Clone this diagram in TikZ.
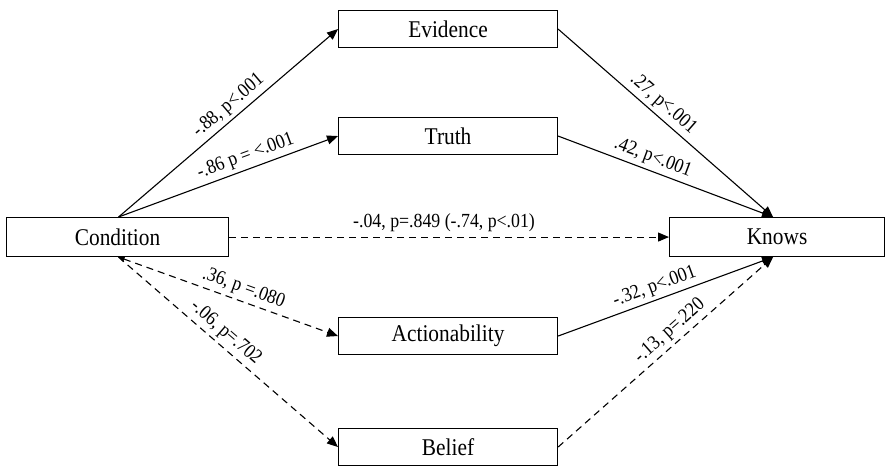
\documentclass[tikz,border=0pt]{standalone}
\usepackage{fontspec}
\setmainfont[FakeStretch=0.89]{Liberation Serif}
\usetikzlibrary{arrows.meta}
\begin{document}
\begin{tikzpicture}[x=1pt,y=-1pt,
  box/.style={draw,line width=1.1pt,minimum width=219pt,minimum height=37pt,inner sep=0pt,font=\fontsize{24}{26}\selectfont,anchor=north west},
  conn/.style={line width=1.1pt,-{Triangle[length=11pt,width=9pt]}},
  dconn/.style={conn,dash pattern=on 7pt off 5pt},
  lab/.style={font=\fontsize{20}{22}\selectfont,sloped,above,inner sep=3.5pt},
  hlab/.style={font=\fontsize{20}{22}\selectfont,above,inner sep=5pt}]
\useasboundingbox (0,0) rectangle (886,466);
\node[box] (ev) at (338,10) {Evidence};
\node[box] (tr) at (338,117) {Truth};
\node[box,minimum width=222pt,minimum height=39pt] (co) at (6,217) {Condition};
\node[box,minimum width=215pt,minimum height=39pt] (kn) at (669,217) {Knows};
\node[box] (ac) at (338,317) {Actionability};
\node[box] (be) at (338,428) {Belief};
\coordinate (cot) at ([xshift=1pt]co.north);
\coordinate (cob) at ([xshift=1pt]co.south);
\coordinate (knt) at ([xshift=-4pt]kn.north);
\coordinate (knb) at ([xshift=-4pt]kn.south);
\draw[conn] (cot) -- node[lab,pos=0.54] {-.88, p<.001} (ev.west);
\draw[conn] (cot) -- node[lab,pos=0.6] {-.86 p = <.001} (tr.west);
\draw[conn] (ev.east) -- node[lab,pos=0.45] {.27, p<.001} (knt);
\draw[conn] (tr.east) -- node[lab,pos=0.42] {.42, p<.001} (knt);
\draw[dconn] (co.east) -- node[hlab,xshift=-5pt] {-.04, p=.849 (-.74, p<.01)} (kn.west);
\draw[dconn,{Triangle[length=6pt,width=6pt]}-{Triangle[length=11pt,width=9pt]}] (cob) -- node[lab,pos=0.55] {.36, p =.080} (ac.west);
\draw[dconn] (cob) -- node[lab,pos=0.45] {-.06, p=.702} (be.west);
\draw[conn] (ac.east) -- node[lab,pos=0.47] {-.32, p<.001} (knb);
\draw[dconn] (be.east) -- node[lab,pos=0.56] {-.13, p=.220} (knb);
\end{tikzpicture}
\end{document}
